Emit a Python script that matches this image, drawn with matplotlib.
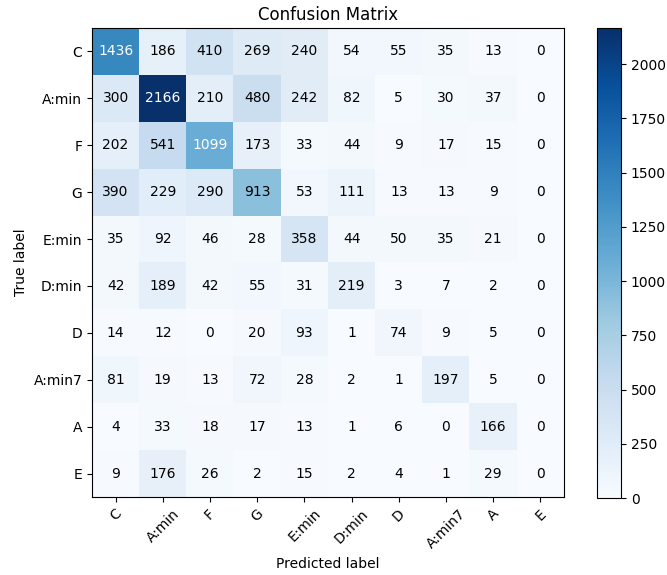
import numpy as np
import matplotlib
matplotlib.use("Agg")
import matplotlib.pyplot as plt

classes = ["C", "A:min", "F", "G", "E:min", "D:min", "D", "A:min7", "A", "E"]

row_C     = [1436, 186, 410, 269, 240, 54, 55, 35, 13, 0]
row_Amin  = [300, 2166, 210, 480, 242, 82, 5, 30, 37, 0]
row_F     = [202, 541, 1099, 173, 33, 44, 9, 17, 15, 0]
row_G     = [390, 229, 290, 913, 53, 111, 13, 13, 9, 0]
row_Emin  = [35, 92, 46, 28, 358, 44, 50, 35, 21, 0]
row_Dmin  = [42, 189, 42, 55, 31, 219, 3, 7, 2, 0]
row_D     = [14, 12, 0, 20, 93, 1, 74, 9, 5, 0]
row_Amin7 = [81, 19, 13, 72, 28, 2, 1, 197, 5, 0]
row_A     = [4, 33, 18, 17, 13, 1, 6, 0, 166, 0]
row_E     = [9, 176, 26, 2, 15, 2, 4, 1, 29, 0]

cm = np.array([row_C, row_Amin, row_F, row_G, row_Emin,
               row_Dmin, row_D, row_Amin7, row_A, row_E])

fig = plt.figure(figsize=(6.67, 5.75), dpi=100)
ax = fig.add_axes([92 / 667, 78 / 575, 472 / 667, 469 / 575])
cax = fig.add_axes([597 / 667, 77 / 575, 24 / 667, 470 / 575])

im = ax.imshow(cm, interpolation="nearest", cmap=plt.cm.Blues, aspect="auto")
ax.set_title("Confusion Matrix")
fig.colorbar(im, cax=cax)

ticks = np.arange(len(classes))
ax.set_xticks(ticks)
ax.set_xticklabels(classes, rotation=45)
ax.set_yticks(ticks)
ax.set_yticklabels(classes)

thresh = cm.max() / 2.0
for i in range(cm.shape[0]):
    for j in range(cm.shape[1]):
        ax.text(j, i, format(cm[i, j], "d"),
                ha="center", va="center",
                color="white" if cm[i, j] > thresh else "black")

ax.set_ylabel("True label")
ax.set_xlabel("Predicted label")

fig.savefig("out.png", dpi=100)
